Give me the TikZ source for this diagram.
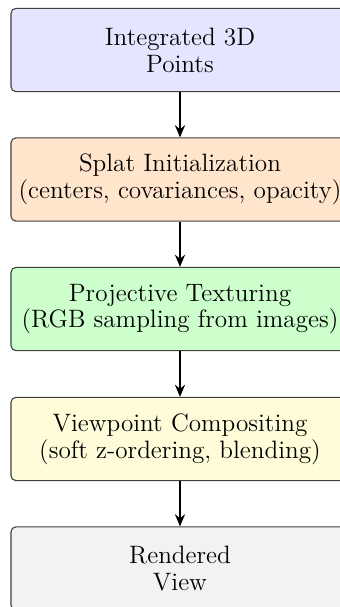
\documentclass[tikz,border=0pt]{standalone}
\usetikzlibrary{arrows.meta}
\begin{document}
\begin{tikzpicture}[x=0.4545pt,y=-0.4545pt,
  stagebox/.style={draw=black!75,line width=0.5pt,rounded corners=2.2pt,
    minimum width=153.6pt,minimum height=37.8pt,align=center,inner sep=0pt,
    font=\fontsize{11.44}{12.2}\selectfont},
  flowarrow/.style={line width=0.8pt,-{Stealth[length=5.5pt,width=4.6pt]}}]
\useasboundingbox (0,0) rectangle (340,607);
\clip (0,0) rectangle (340,607);
\node[stagebox,fill=blue!10] (a) at (180,50) {Integrated 3D\\Points};
\node[stagebox,fill=orange!20] (b) at (180,179.5) {Splat Initialization\\(centers, covariances, opacity)};
\node[stagebox,fill=green!20] (c) at (180,309) {Projective Texturing\\(RGB sampling from images)};
\node[stagebox,fill=yellow!15] (d) at (180,439) {Viewpoint Compositing\\(soft z-ordering, blending)};
\node[stagebox,fill=black!5] (e) at (180,568.5) {Rendered\\View};
\draw[flowarrow] (a) -- (b);
\draw[flowarrow] (b) -- (c);
\draw[flowarrow] (c) -- (d);
\draw[flowarrow] (d) -- (e);
\end{tikzpicture}
\end{document}
